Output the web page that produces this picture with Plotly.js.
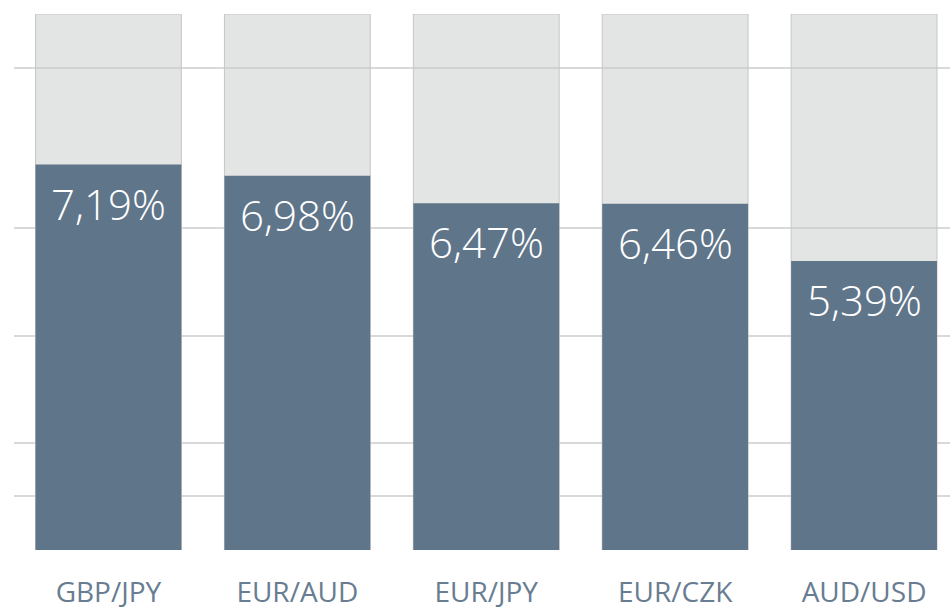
<!DOCTYPE html>
<html><head><meta charset="utf-8">
<script src="https://cdn.plot.ly/plotly-3.0.1.min.js"></script>
<style>html,body{margin:0;padding:0;background:#fff;}#chart{width:950px;height:611px;}</style>
</head><body><div id="chart"></div>
<script>
const categories = ["GBP/JPY", "EUR/AUD", "EUR/JPY", "EUR/CZK", "AUD/USD"];
const values = [7.19, 6.98, 6.47, 6.46, 5.39];
const labels = ["7,19%", "6,98%", "6,47%", "6,46%", "5,39%"];
const maxValue = [10, 10, 10, 10, 10];
const gridValues = [1, 2, 4, 6, 9];

const bg = {
  type: 'bar', x: categories, y: maxValue,
  marker: {color: 'rgba(199,203,203,0.5)', line: {color: '#c6c6c6', width: 1}},
  hoverinfo: 'skip'
};
const fg = {
  type: 'bar', x: categories, y: values,
  marker: {color: '#5f758a', line: {width: 0}},
  hoverinfo: 'skip'
};
const annotations = categories.map((c, i) => ({
  x: c, y: values[i], xref: 'x', yref: 'y', text: labels[i],
  showarrow: false, yanchor: 'top', yshift: -8,
  font: {family: 'Open Sans', size: 42, weight: 300, color: '#ffffff'}
}));
const layout = {
  width: 950, height: 611,
  margin: {l: 13.5, r: 0, t: 14, b: 61},
  paper_bgcolor: '#fff', plot_bgcolor: '#fff',
  barmode: 'overlay', bargap: 0.228, showlegend: false,
  xaxis: {type: 'category', range: [-0.5, 4.455], showgrid: false, zeroline: false,
    showline: false, ticks: '', ticklabelstandoff: 23,
    tickfont: {family: 'Open Sans', size: 28, color: '#687d91'}},
  yaxis: {range: [0, 10], tickmode: 'array', tickvals: gridValues, showticklabels: false,
    showgrid: true, gridcolor: '#d9d9d9', gridwidth: 2, zeroline: false, showline: false},
  annotations: annotations
};
Plotly.newPlot('chart', [bg, fg], layout, {displayModeBar: false, staticPlot: true});
</script></body></html>
